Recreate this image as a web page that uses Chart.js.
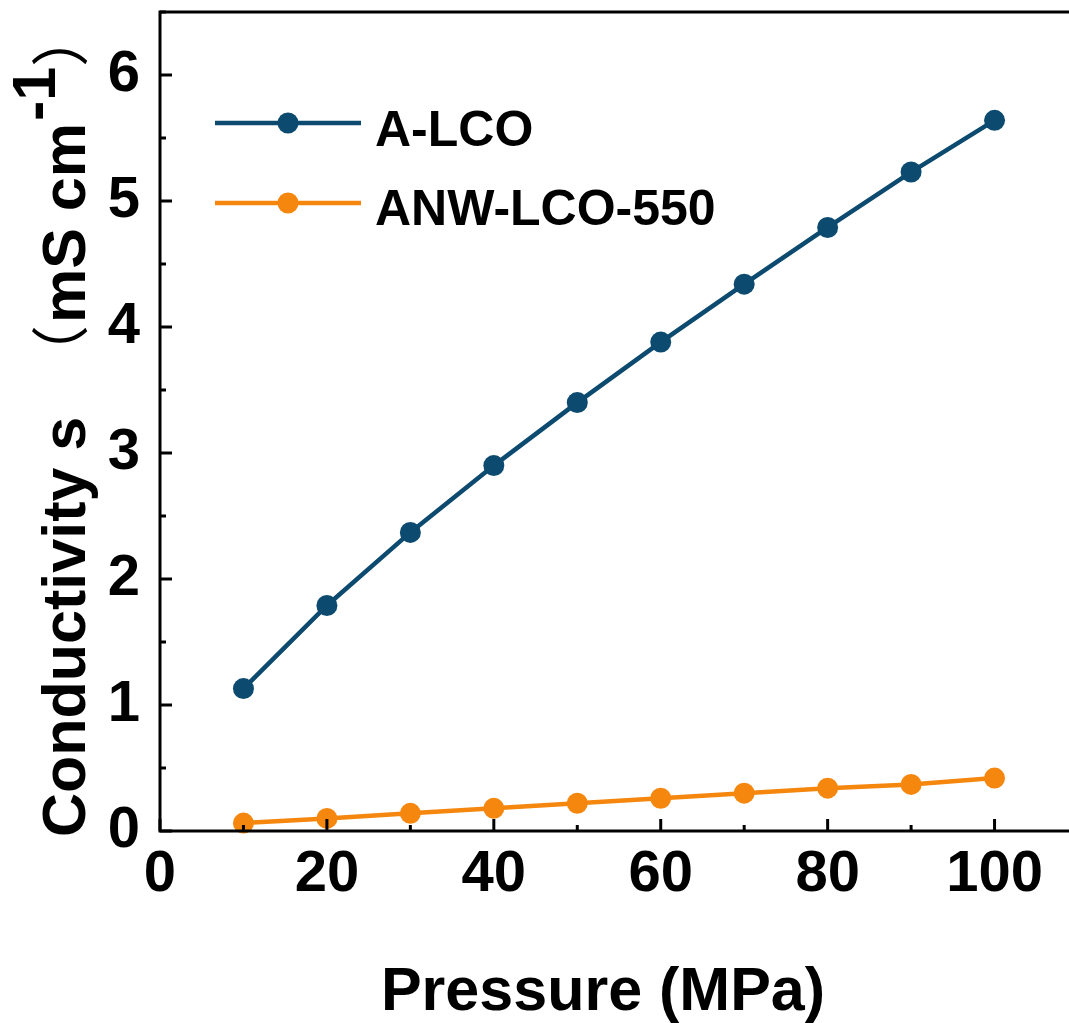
<!DOCTYPE html>
<html>
<head>
<meta charset="utf-8">
<script src="https://cdn.jsdelivr.net/npm/chart.js@4/dist/chart.umd.min.js"></script>
<style>
  html, body { margin: 0; padding: 0; background: #fff; overflow: hidden; }
  #wrap { width: 1078px; height: 1023px; position: relative; }
</style>
</head>
<body>
<div id="wrap"><canvas id="c" width="1078" height="1023"></canvas></div>
<script>
// ---- data ----
const pressure = [10, 20, 30, 40, 50, 60, 70, 80, 90, 100];
const aLCO = [1.13, 1.79, 2.37, 2.90, 3.40, 3.88, 4.34, 4.79, 5.23, 5.64];
const anwLCO550 = [0.063, 0.10, 0.14, 0.18, 0.22, 0.26, 0.30, 0.34, 0.37, 0.42];
const seriesNames = ['A-LCO', 'ANW-LCO-550'];
const xTickValues = [0, 20, 40, 60, 80, 100];
const yTickValues = [0, 1, 2, 3, 4, 5, 6];
const xTitle = 'Pressure (MPa)';
const yTitleMain = 'Conductivity s';
const yTitleOpen = '\uFF08';
const yTitleUnit = 'mS cm';
const yTitleSup = '-1';
const yTitleClose = '\uFF09';

const BLUE = '#0c4a70';
const ORANGE = '#f5870f';
const FONT = '"Liberation Sans", Arial, sans-serif';
const CJK = '"Noto Sans CJK SC", "Noto Sans CJK JP", sans-serif';

const toPts = (xs, ys) => xs.map((x, i) => ({ x, y: ys[i] }));

const frame = {
  id: 'frame',
  afterDraw(chart) {
    const { ctx, chartArea: a, scales: { x, y } } = chart;
    ctx.save();
    ctx.strokeStyle = '#000';
    ctx.lineWidth = 3;
    ctx.strokeRect(a.left, a.top, a.right - a.left, a.bottom - a.top);
    // inward ticks
    for (let v = 0; v <= 110; v += 10) {
      const px = x.getPixelForValue(v);
      const len = (v % 20 === 0) ? 12 : 6;
      ctx.beginPath(); ctx.moveTo(px, a.bottom); ctx.lineTo(px, a.bottom - len); ctx.stroke();
    }
    for (let v = 0; v <= 6.5; v += 0.5) {
      const py = y.getPixelForValue(v);
      const len = (Math.abs(v - Math.round(v)) < 1e-6) ? 12 : 6;
      ctx.beginPath(); ctx.moveTo(a.left, py); ctx.lineTo(a.left + len, py); ctx.stroke();
    }
    ctx.restore();

    // x title
    ctx.save();
    ctx.fillStyle = '#000';
    ctx.font = 'bold 61px ' + FONT;
    ctx.textAlign = 'center';
    ctx.textBaseline = 'alphabetic';
    ctx.fillText(xTitle, 603, 1010);
    ctx.restore();

    // y title
    ctx.save();
    ctx.fillStyle = '#000';
    ctx.textBaseline = 'alphabetic';
    ctx.translate(85, 837);
    ctx.rotate(-Math.PI / 2);
    ctx.font = 'bold 61px ' + FONT;
    ctx.textAlign = 'left';
    ctx.fillText(yTitleMain, 0, 0);
    ctx.fillText(yTitleUnit, 514, 0);
    const uw = ctx.measureText(yTitleUnit).width;
    ctx.fillText(yTitleSup, 514 + uw + 2, -30);
    ctx.font = '58px ' + CJK;
    ctx.textAlign = 'right';
    ctx.fillText(yTitleOpen, 512, -3);
    ctx.textAlign = 'left';
    ctx.fillText(yTitleClose, 770, -3);
    ctx.restore();

    // legend
    ctx.save();
    const items = [
      { name: seriesNames[0], color: BLUE, y: 123, ty: 146 },
      { name: seriesNames[1], color: ORANGE, y: 203, ty: 225 }
    ];
    items.forEach(it => {
      ctx.strokeStyle = it.color;
      ctx.lineWidth = 4.5;
      ctx.beginPath(); ctx.moveTo(215, it.y); ctx.lineTo(361, it.y); ctx.stroke();
      ctx.fillStyle = it.color;
      ctx.beginPath(); ctx.arc(288, it.y, 10.5, 0, Math.PI * 2); ctx.fill();
      ctx.fillStyle = '#000';
      ctx.font = 'bold 50px ' + FONT;
      ctx.textBaseline = 'alphabetic';
      ctx.fillText(it.name, 375, it.ty);
    });
    ctx.restore();
  }
};

new Chart(document.getElementById('c'), {
  type: 'scatter',
  data: {
    datasets: [
      { label: seriesNames[0], data: toPts(pressure, aLCO), showLine: true,
        borderColor: BLUE, backgroundColor: BLUE, borderWidth: 4.5,
        pointRadius: 10.5, pointBorderWidth: 0 },
      { label: seriesNames[1], data: toPts(pressure, anwLCO550), showLine: true,
        borderColor: ORANGE, backgroundColor: ORANGE, borderWidth: 4.5,
        pointRadius: 10.5, pointBorderWidth: 0 }
    ]
  },
  options: {
    responsive: false,
    animation: false,
    clip: false,
    layout: { autoPadding: false, padding: { top: 12, right: 0, left: 0, bottom: 0 } },
    plugins: { legend: { display: false }, tooltip: { enabled: false } },
    scales: {
      x: {
        type: 'linear', min: 0, max: 110,
        grid: { display: false, drawTicks: false },
        border: { display: false },
        afterFit: s => { s.height = 192; s.paddingLeft = 0; s.paddingRight = 0; },
        afterBuildTicks: s => { s.ticks = xTickValues.map(v => ({ value: v })); },
        ticks: { color: '#000', font: { family: FONT, size: 58, weight: 'bold' }, padding: 9, maxRotation: 0 }
      },
      y: {
        min: 0, max: 6.5,
        grid: { display: false, drawTicks: false },
        border: { display: false },
        afterFit: s => { s.width = 160; s.paddingTop = 0; s.paddingBottom = 0; },
        afterBuildTicks: s => { s.ticks = yTickValues.map(v => ({ value: v })); },
        ticks: { color: '#000', font: { family: FONT, size: 58, weight: 'bold' }, padding: 20 }
      }
    }
  },
  plugins: [frame]
});
</script>
</body>
</html>
